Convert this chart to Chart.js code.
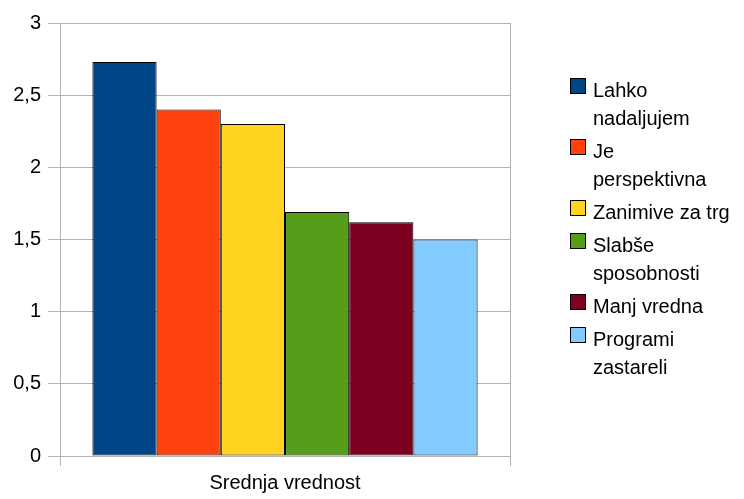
<!DOCTYPE html>
<html>
<head>
<meta charset="utf-8">
<script src="https://cdn.jsdelivr.net/npm/chart.js@4/dist/chart.umd.min.js"></script>
<style>
  html, body { margin: 0; padding: 0; background: #fff; }
  #wrap { position: relative; width: 744px; height: 499px; }
  #legend {
    position: absolute; left: 570px; top: 76px;
    font-family: "Liberation Sans", Arial, sans-serif; font-size: 20px; color: #000;
  }
  .item { position: relative; padding-left: 23px; line-height: 28px; margin-bottom: 5px; white-space: nowrap; }
  .box { position: absolute; left: 0; top: 2px; width: 14px; height: 14px; border: 1px solid #000; }
</style>
</head>
<body>
<div id="wrap">
  <canvas id="myChart" width="744" height="499"></canvas>
  <div id="legend"></div>
</div>
<script>
var categories = ["Srednja vrednost"];
var seriesNames = [
  ["Lahko", "nadaljujem"],
  ["Je", "perspektivna"],
  ["Zanimive za trg"],
  ["Slabše", "sposobnosti"],
  ["Manj vredna"],
  ["Programi", "zastareli"]
];
var seriesValues = [2.73, 2.4, 2.3, 1.69, 1.62, 1.5];
var seriesColors = ["#004586", "#ff420e", "#ffd320", "#579d1c", "#7e0021", "#83caff"];
var yTicks = [0, 0.5, 1, 1.5, 2, 2.5, 3];

var gridColor = "#b3b3b3";
var font = { family: "'Liberation Sans', Arial, sans-serif", size: 20 };

var datasets = seriesValues.map(function (v, i) {
  return {
    label: seriesNames[i].join(" "),
    data: [v],
    backgroundColor: seriesColors[i],
    borderColor: "#000",
    borderWidth: 1,
    borderSkipped: false,
    barPercentage: 1,
    categoryPercentage: 0.856
  };
});

var ctx = document.getElementById("myChart").getContext("2d");
var myChart = new Chart(ctx, {
  type: "bar",
  data: { labels: categories, datasets: datasets },
  options: {
    responsive: false,
    animation: false,
    layout: { padding: { top: 23, right: 234, left: 0, bottom: 0 } },
    plugins: { legend: { display: false }, tooltip: { enabled: false } },
    scales: {
      x: {
        grid: { color: gridColor, offset: true, tickLength: 10, lineWidth: 1 },
        border: { display: false },
        ticks: { color: "#000", font: font, padding: 5 },
        afterFit: function (scale) { scale.height = 43; }
      },
      y: {
        min: 0,
        max: 3,
        afterBuildTicks: function (scale) {
          scale.ticks = yTicks.map(function (t) { return { value: t }; });
        },
        grid: { color: gridColor, tickLength: 12, lineWidth: 1 },
        border: { color: gridColor },
        ticks: {
          color: "#000",
          font: font,
          padding: 7,
          callback: function (v) { return String(v).replace(".", ","); }
        },
        afterFit: function (scale) { scale.width = 60; }
      }
    }
  }
});

// legend with wrapped names
var legend = document.getElementById("legend");
seriesNames.forEach(function (lines, i) {
  var item = document.createElement("div");
  item.className = "item";
  var box = document.createElement("span");
  box.className = "box";
  box.style.background = seriesColors[i];
  item.appendChild(box);
  lines.forEach(function (line, j) {
    if (j > 0) item.appendChild(document.createElement("br"));
    item.appendChild(document.createTextNode(line));
  });
  legend.appendChild(item);
});
</script>
</body>
</html>
